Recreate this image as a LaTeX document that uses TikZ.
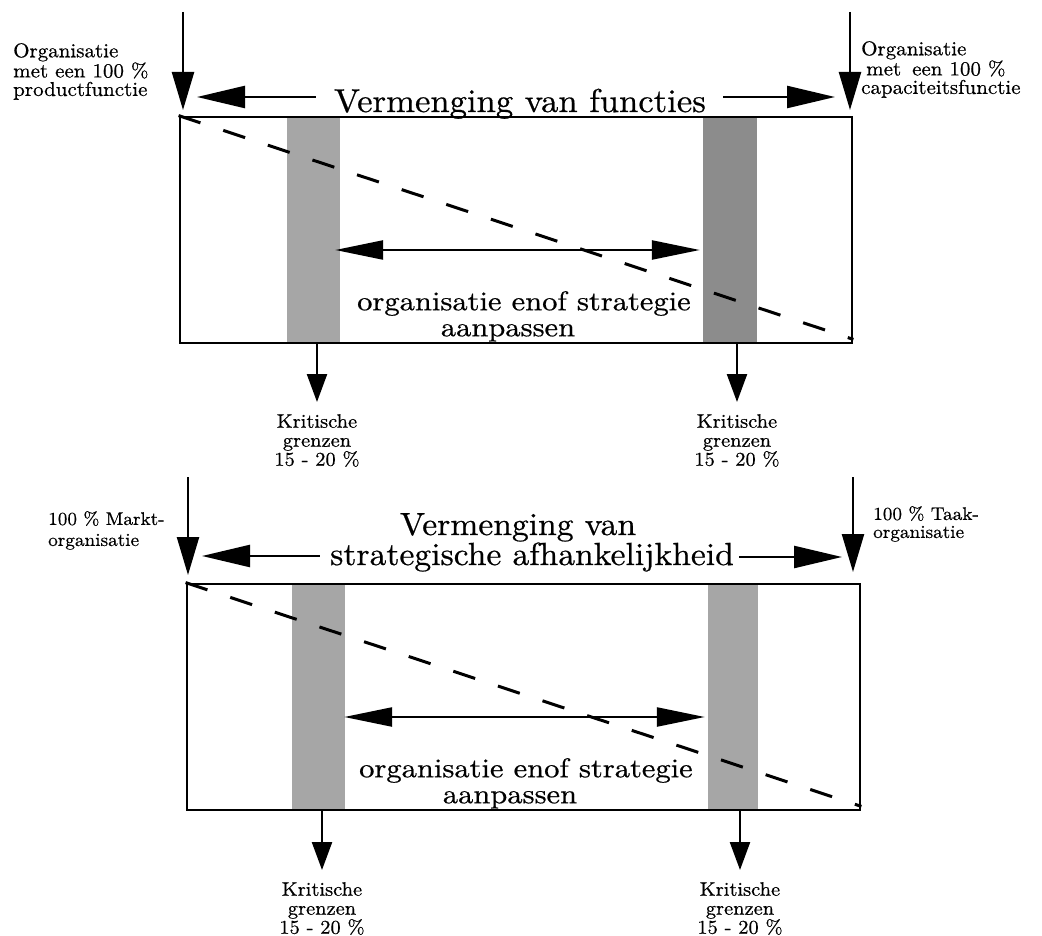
\documentclass[tikz,border=0pt]{standalone}
\usepackage{fontspec}
\setmainfont{lmroman10-regular.otf}[FakeStretch=1.05, FakeBold=0.6]
\usetikzlibrary{arrows.meta}
\begin{document}
\begin{tikzpicture}[x=1pt,y=-1pt,
  boxframe/.style={draw=black, line width=2.8pt, rectangle, inner sep=0pt, minimum height=226pt},
  greyband/.style={fill=black!35, draw=none, rectangle, inner sep=0pt, minimum height=226pt},
  diagline/.style={line width=3pt, dash pattern=on 23pt off 24pt},
  feedarrow/.style={line width=2.4pt, -{Triangle[length=38pt,width=22pt]}},
  spreadarrow/.style={line width=2.4pt, -{Triangle[length=48pt,width=22pt]}},
  spanarrow/.style={line width=2.4pt, {Triangle[length=48pt,width=19pt]}-{Triangle[length=48pt,width=19pt]}},
  droparrow/.style={line width=2.4pt, -{Triangle[length=28pt,width=20pt]}},
  critlabel/.style={font=\fontsize{19.5}{19}\selectfont, inner sep=0pt, align=center, anchor=north},
  sidelabel/.style={inner sep=0pt, align=left, anchor=north west},
  titletext/.style={font=\fontsize{32}{30}\selectfont, inner sep=0pt, anchor=base},
  innertext/.style={font=\fontsize{27}{26}\selectfont\addfontfeatures{FakeStretch=1.13},
    inner sep=0pt, align=center, anchor=north},
]
\useasboundingbox (0,0) rectangle (1042,936);

% ---------- upper diagram: product vs. capacity function ----------
\node[greyband, minimum width=53pt] (barA1) at (313.5,230) {};
\node[greyband, fill=black!45, minimum width=54pt] (barA2) at (730,230) {};
\node[boxframe, minimum width=672pt] (boxA) at (516,230) {};
\draw[diagline] (boxA.north west) -- ([yshift=5pt]boxA.south east);

\coordinate (rowA) at (516,250);
\draw[spanarrow] ([xshift=-5pt]barA1.east |- rowA) -- ([xshift=-3pt]barA2.west |- rowA);
\node[innertext] (innerA) at (524,291)
  {organisatie enof strategie\\aanpassen\hspace*{32pt}};

\node[titletext, font=\fontsize{33}{30}\selectfont] (titleA) at (520,112) {Vermenging van functies};
\coordinate (leftA) at (197,97);
\coordinate (rightA) at (835,97);
\draw[spreadarrow] ([xshift=-18pt]titleA.west |- leftA) -- (leftA);
\draw[spreadarrow] ([xshift=17pt]titleA.east |- rightA) -- (rightA);

\coordinate (srcA1) at (183,12);
\coordinate (tipA1) at (183,110);
\coordinate (srcA2) at (850,12);
\coordinate (tipA2) at (850,110);
\draw[feedarrow] (srcA1) -- (tipA1);
\draw[feedarrow] (srcA2) -- (tipA2);

\node[sidelabel, font=\fontsize{20}{18.5}\selectfont] (prodA) at (13,43)
  {Organisatie\\met een 100 \%\\productfunctie};
\node[sidelabel, font=\fontsize{20}{18.5}\selectfont] (capA) at (861,41)
  {Organisatie\\\hspace*{5pt}met\hspace*{4pt} een 100 \%\\capaciteitsfunctie};

\node[critlabel] (critA1) at (317,414) {Kritische\\grenzen\\15 - 20 \%};
\node[critlabel] (critA2) at (737,414) {Kritische\\grenzen\\15 - 20 \%};
\draw[droparrow] (critA1.north |- boxA.south) -- ([yshift=12pt]critA1.north);
\draw[droparrow] (critA2.north |- boxA.south) -- ([yshift=12pt]critA2.north);

% ---------- lower diagram: market vs. task organisation ----------
\node[greyband, minimum width=53pt] (barB1) at (318.5,697) {};
\node[greyband, minimum width=50pt] (barB2) at (733,697) {};
\node[boxframe, minimum width=673pt] (boxB) at (523.5,697) {};
\draw[diagline] (boxB.north west) -- ([yshift=5pt]boxB.south east);

\coordinate (rowB) at (523,717);
\draw[spanarrow] ([xshift=-1pt]barB1.east |- rowB) -- ([xshift=-3pt]barB2.west |- rowB);
\node[innertext] (innerB) at (526,758)
  {organisatie enof strategie\\aanpassen\hspace*{32pt}};

\node[titletext] (titleB1) at (518,535) {Vermenging van};
\node[titletext] (titleB2) at (532,565) {strategische afhankelijkheid};
\coordinate (leftB) at (202,556);
\coordinate (rightB) at (842,557);
\draw[spreadarrow] ([xshift=-10pt]titleB2.west |- leftB) -- (leftB);
\draw[spreadarrow] ([xshift=5pt]titleB2.east |- rightB) -- (rightB);

\coordinate (srcB1) at (188,477);
\coordinate (tipB1) at (188,575);
\coordinate (srcB2) at (853,477);
\coordinate (tipB2) at (853,572);
\draw[feedarrow] (srcB1) -- (tipB1);
\draw[feedarrow] (srcB2) -- (tipB2);

\node[sidelabel, font=\fontsize{18.3}{21}\selectfont] (marktB) at (48,511)
  {100 \% Markt-\\organisatie};
\node[sidelabel, font=\fontsize{18.3}{18}\selectfont] (taakB) at (873,506)
  {100 \% Taak-\\organisatie};

\node[critlabel] (critB1) at (322,882) {Kritische\\grenzen\\15 - 20 \%};
\node[critlabel] (critB2) at (740,882) {Kritische\\grenzen\\15 - 20 \%};
\draw[droparrow] (critB1.north |- boxB.south) -- ([yshift=12pt]critB1.north);
\draw[droparrow] (critB2.north |- boxB.south) -- ([yshift=12pt]critB2.north);
\end{tikzpicture}
\end{document}
